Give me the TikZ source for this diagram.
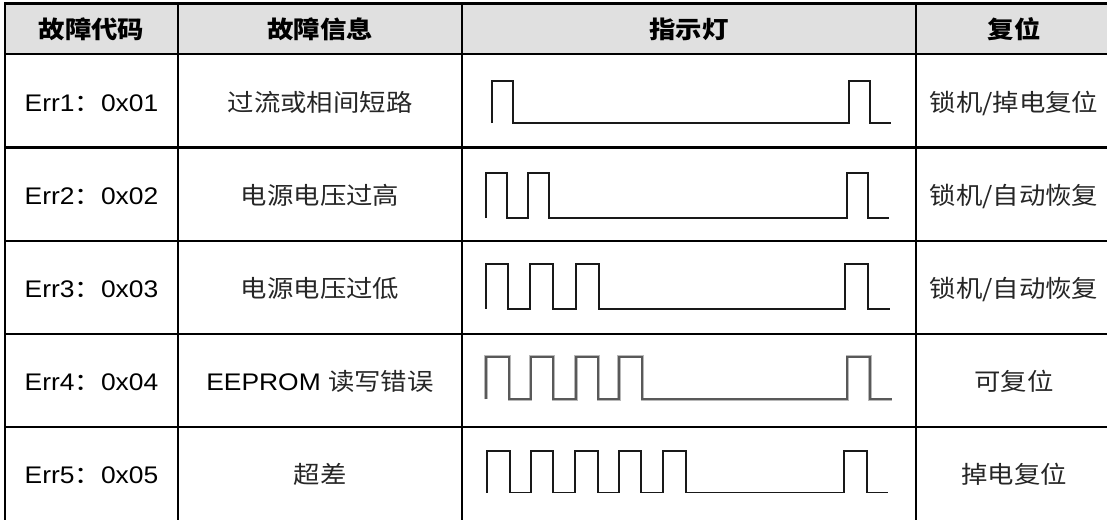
\documentclass[tikz,border=0pt]{standalone}
\usepackage{fontspec}
\setmainfont{Liberation Sans}[FakeStretch=1.1]
\newfontfamily\cjk{Noto Sans CJK SC}[FakeStretch=1.1]
\begin{document}
\begin{tikzpicture}[x=1pt,y=-1pt,
  grid/.style={line width=2.2pt, black, line join=miter},
  headfill/.style={fill=black!12},
  wave/.style={line width=1.7pt, black!90, line join=miter},
  waveblur/.style={line width=3.2pt, black!28, line join=miter},
  wavecore/.style={line width=1.8pt, black!65, line join=miter},
  txt/.style={inner sep=0pt, anchor=base, font=\fontsize{24}{28}\selectfont},
  head/.style={txt, font=\fontsize{24}{28}\selectfont\cjk\bfseries},
  ctxt/.style={txt, text=black!85, font=\fontsize{24}{28}\selectfont\cjk}]
\useasboundingbox (0,0) rectangle (1107,519);
\clip (0,0) rectangle (1107,519);
% header background
\fill[headfill] (5,3.5) rectangle (1120,54);
% grid
\draw[grid] (1120,3.5) -- (5,3.5) -- (5,530);
\foreach \yy in {54,147.5,240.7,333.7,426.7}
  \draw[grid] (5,\yy) -- (1120,\yy);
\foreach \xx in {178,462,916}
  \draw[grid] (\xx,3.5) -- (\xx,530);
% header texts
\node[head] (h1) at (91.5,39) {故障代码};
\node[head] (h2) at (320,39) {故障信息};
\node[head] (h3) at (689,39) {指示灯};
\node[head] (h4) at (1014,39) {复位};
% codes
\node[txt] (c1) at (91.5,111.3) {Err1{\cjk ：}0x01};
\node[txt] (c2) at (91.5,204.6) {Err2{\cjk ：}0x02};
\node[txt] (c3) at (91.5,297.7) {Err3{\cjk ：}0x03};
\node[txt] (c4) at (91.5,390.7) {Err4{\cjk ：}0x04};
\node[txt] (c5) at (91.5,483.7) {Err5{\cjk ：}0x05};
% info
\node[ctxt] (i1) at (320,111.3) {过流或相间短路};
\node[ctxt] (i2) at (320,204.6) {电源电压过高};
\node[ctxt] (i3) at (320,297.7) {电源电压过低};
\node[txt] (i4) at (320,390.7) {EEPROM {\color{black!85}\cjk 读写错误}};
\node[ctxt] (i5) at (320,483.7) {超差};
% reset
\node[ctxt] (r1) at (1014,111.3) {锁机/掉电复位};
\node[ctxt] (r2) at (1014,204.6) {锁机/自动恢复};
\node[ctxt] (r3) at (1014,297.7) {锁机/自动恢复};
\node[ctxt] (r4) at (1014,390.7) {可复位};
\node[ctxt] (r5) at (1014,483.7) {掉电复位};
% waveforms
\draw[wave] (491.7,123) |- (513,80.7) |- (849,123) |- (870,80.7) |- (890.7,123);
\draw[wave] (485.7,218.2) |- (507.3,172.7) |- (528.3,218.2) |- (548.7,172.7)
  |- (846.7,218.2) |- (868.3,172.7) |- (889.3,218.2);
\draw[wave] (485.7,308.8) |- (508.3,263.8) |- (530,308.8) |- (553.3,263.8)
  |- (575.7,308.8) |- (598.7,263.8) |- (844.7,308.8) |- (868,263.8) |- (890,308.8);
\foreach \st in {waveblur,wavecore}
  \draw[\st] (486,399.3) |- (509.3,356.7) |- (530.7,399.3) |- (553.3,356.7)
    |- (576,399.3) |- (598.3,356.7) |- (619,399.3) |- (642.3,356.7)
    |- (847.3,399.3) |- (870,356.7) |- (891.7,399.3);
\draw[wave] (487.3,492.5) |- (510,451) |- (531,492.5) |- (553.3,451)
  |- (575.3,492.5) |- (597.7,451) |- (618.7,492.5) |- (641,451)
  |- (663.3,492.5) |- (685.7,451) |- (844,492.5) |- (866.7,451) |- (888.3,492.5);
\end{tikzpicture}
\end{document}
